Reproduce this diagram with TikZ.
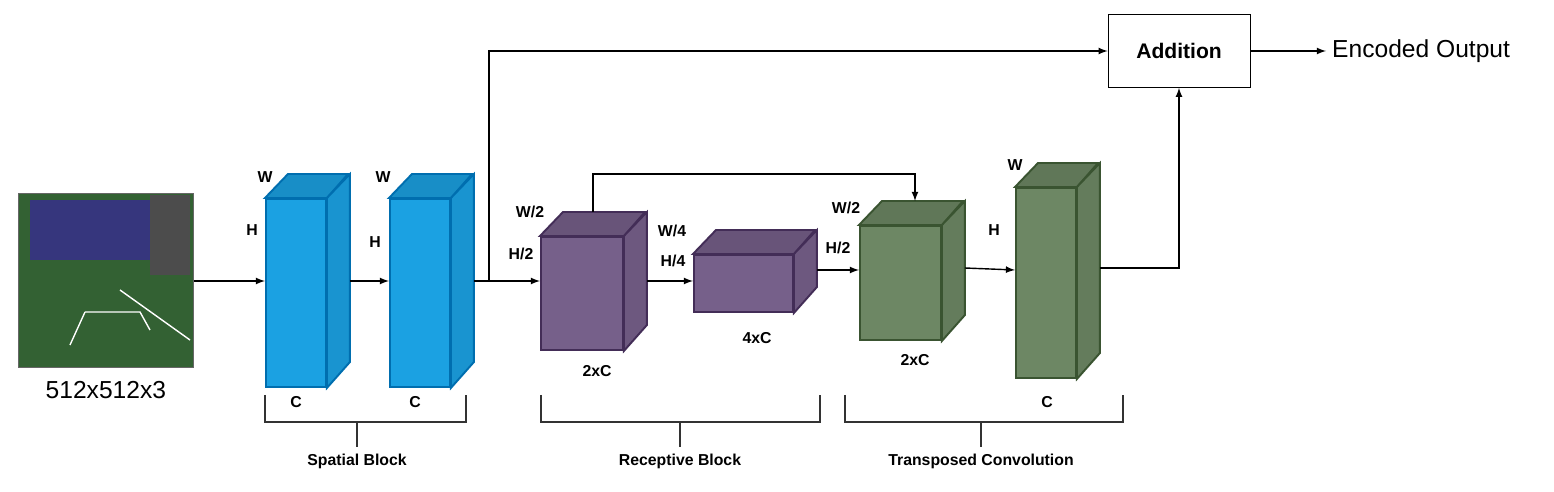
\documentclass[tikz,border=0pt]{standalone}
\usepackage{fontspec}
\setmainfont{Liberation Sans}
\usetikzlibrary{positioning,calc}

\definecolor{blueF}{HTML}{1BA1E2}
\definecolor{blueD}{HTML}{006EAF}
\definecolor{purpF}{HTML}{76608A}
\definecolor{purpD}{HTML}{432D57}
\definecolor{grnF}{HTML}{6D8764}
\definecolor{grnD}{HTML}{3A5431}

% cuboid: name, x, y, width, height, fill, draw
\newcommand{\cuboid}[7]{%
  \node[face, fill=#6, draw=#7, minimum width=#4*0.02cm, minimum height=#5*0.02cm,
        anchor=north west] (#1) at (#2,#3) {};
  \draw[face, fill=#6!88!black, draw=#7] (#1.north west) -- ++(23,-24) -- ++(#4,0)
        -- (#1.north east) -- cycle;
  \draw[face, fill=#6!92!black, draw=#7] (#1.north east) -- ++(23,-24) coordinate (#1-tr)
        -- ++(0,#5) coordinate (#1-br) -- (#1.south east) -- cycle;
  \coordinate (#1-back) at ($(#1-tr)!0.5!(#1-br)$);
}

\begin{document}
\begin{tikzpicture}[x=0.02cm, y=-0.02cm,
    face/.style={rectangle, line width=1.1pt, inner sep=0pt},
    dim/.style={font=\bfseries\fontsize{9}{10}\selectfont},
    blocklabel/.style={font=\bfseries\fontsize{9}{10}\selectfont},
    arrow/.style={-latex, thick},
    bracket/.style={semithick, draw=black!80}
]
\useasboundingbox (0,0) rectangle (1554,492);

% Input image
\node[rectangle, fill=black!70!green!60!gray, draw=black!60, minimum width=175*0.02cm,
      minimum height=174*0.02cm, anchor=north west, inner sep=0pt] (img) at (18,193) {};
\fill[blue!40!gray!70!black] (30,200) rectangle (150,260);
\fill[gray!60!black] (150,195) rectangle (190,275);
\draw[white!80, thick] (85,312) -- (70,345) (85,312) -- (140,312) -- (150,330);
\draw[white!70, thick] (120,290) -- (190,340);
\node[font=\fontsize{14}{16}\selectfont, below=4pt of img] (imgsize) {512x512x3};

% Spatial block
\cuboid{sp1}{265}{198}{60}{188}{blueF}{blueD}
\cuboid{sp2}{389}{198}{60}{188}{blueF}{blueD}
% Receptive block
\cuboid{rc1}{540}{236}{82}{113}{purpF}{purpD}
\cuboid{rc2}{693}{254}{99}{57}{purpF}{purpD}
% Transposed convolution
\cuboid{tc1}{859}{225}{81}{114}{grnF}{grnD}
\cuboid{tc2}{1015}{187}{60}{190}{grnF}{grnD}

% Dimension labels
\node[dim] (w1) at (265,177) {W};
\node[dim] (h1) at (252,230) {H};
\node[dim] (c1) at (296,402) {C};
\node[dim] (w2) at (383,177) {W};
\node[dim] (h2) at (375,242) {H};
\node[dim] (c2) at (415,402) {C};
\node[dim] (w3) at (530,212) {W/2};
\node[dim] (h3) at (521,254) {H/2};
\node[dim] (c3) at (597,371) {2xC};
\node[dim] (w4) at (672,231) {W/4};
\node[dim] (h4) at (673,261) {H/4};
\node[dim] (c4) at (757,338) {4xC};
\node[dim] (w5) at (846,208) {W/2};
\node[dim] (h5) at (838,248) {H/2};
\node[dim] (c5) at (915,360) {2xC};
\node[dim] (w6) at (1015,165) {W};
\node[dim] (h6) at (994,230) {H};
\node[dim] (c6) at (1047,402) {C};

% Addition and output
\node[rectangle, draw, thin, minimum width=142*0.02cm, minimum height=73*0.02cm,
      font=\bfseries\fontsize{12}{14}\selectfont] (add) at (1179,51) {Addition};
\node[anchor=west, font=\fontsize{14}{16}\selectfont] (out) at (1326,51) {Encoded Output};

% Brackets
\draw[bracket] (265,395) |- (466,422) -- (466,395);
\draw[bracket] (541,395) |- (820,422) -- (820,395);
\draw[bracket] (845,395) |- (1123,422) -- (1123,395);
\node[blocklabel] (spatial) at (357,461) {Spatial Block};
\node[blocklabel] (recept) at (680,461) {Receptive Block};
\node[blocklabel] (transp) at (981,461) {Transposed Convolution};
\draw[bracket] (spatial.north |- 0,422) -- (spatial.north);
\draw[bracket] (recept.north |- 0,422) -- (recept.north);
\draw[bracket] (transp.north |- 0,422) -- (transp.north);

% Arrows
\coordinate (lane) at (0,281);
\draw[arrow] (img.east |- lane) -- (sp1.west |- lane);
\draw[arrow] (sp1-back |- lane) -- (sp2.west |- lane);
\draw[arrow] (sp2-back |- lane) -- (rc1.west |- lane);
\coordinate (split) at (489,281);
\draw[arrow] (split) |- (add.west);
\draw[arrow] (rc1-back |- lane) -- (rc2.west |- lane);
\coordinate (skip) at (915,174);
\draw[arrow] ($(rc1.north)+(11,-24)$) |- (skip) -- (skip |- tc1-tr);
\draw[arrow] (rc2-back |- 0,270) -- (tc1.west |- 0,270);
\draw[arrow] (tc1-back |- 0,268) -- (tc2.west |- 0,270);
\draw[arrow] (tc2-back |- 0,268) -| (add.south);
\draw[arrow] (add.east) -- (out.west);
\end{tikzpicture}
\end{document}
